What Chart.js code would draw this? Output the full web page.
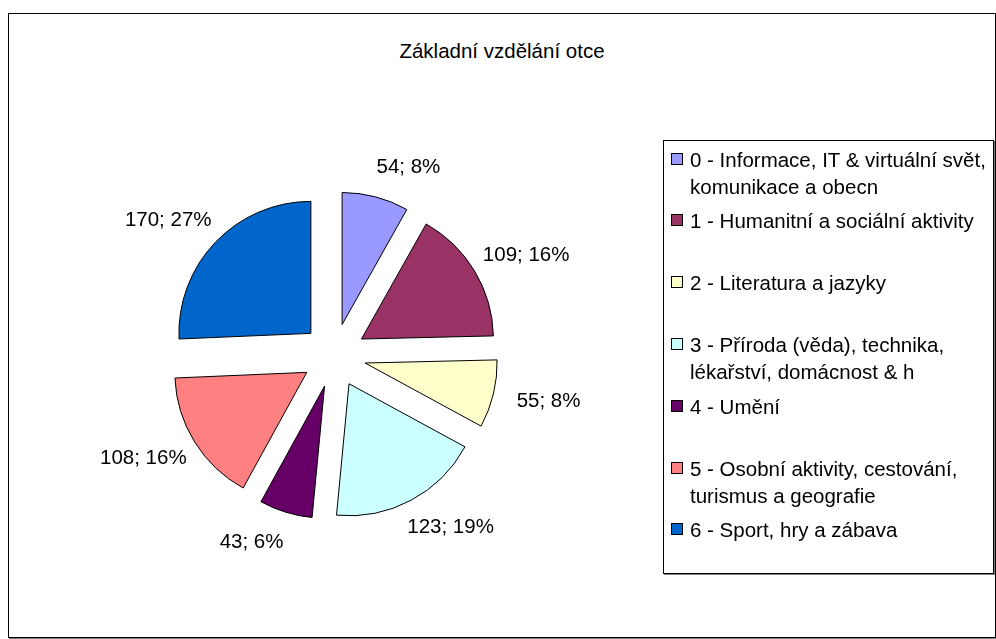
<!DOCTYPE html>
<html lang="cs">
<head>
<meta charset="utf-8">
<title>Základní vzdělání otce</title>
<script src="https://cdn.jsdelivr.net/npm/chart.js@4.4.1/dist/chart.umd.min.js"></script>
<style>
  html, body { margin: 0; padding: 0; background: #fff; }
  body {
    width: 996px; height: 639px; position: relative; overflow: hidden;
    font-family: "Liberation Sans", Arial, sans-serif; color: #000;
  }
  #frame {
    position: absolute; left: 8px; top: 13px; width: 988px; height: 625px;
    border: 1px solid #000; box-shadow: 1px 1px 0 #808080; box-sizing: border-box;
  }
  #chartTitle {
    position: absolute; left: 8px; width: 988px; top: 38px;
    text-align: center; font-size: 20.5px; line-height: 26px;
  }
  #pieChart { position: absolute; left: 0; top: 0; }
  #legendBox {
    position: absolute; left: 663px; top: 140px; width: 331px; height: 434px;
    border: 1px solid #000; box-shadow: 1px 1px 0 #808080; box-sizing: border-box;
  }
  .legend-item { position: absolute; left: 7px; font-size: 20.5px; line-height: 27px; white-space: nowrap; }
  .legend-swatch {
    position: absolute; left: 0; top: 7px; width: 12px; height: 12px;
    border: 1px solid #000; box-sizing: border-box;
  }
  .legend-text { margin-left: 19px; }
</style>
</head>
<body>
<div id="frame"></div>
<div id="chartTitle"></div>
<canvas id="pieChart" width="996" height="639"></canvas>
<div id="legendBox"></div>

<script>
// Data
const chartTitle = 'Základní vzdělání otce';
const categories = [
  ['0 - Informace, IT & virtuální svět,', 'komunikace a obecn'],
  ['1 - Humanitní a sociální aktivity'],
  ['2 - Literatura a jazyky'],
  ['3 - Příroda (věda), technika,', 'lékařství, domácnost & h'],
  ['4 - Umění'],
  ['5 - Osobní aktivity, cestování,', 'turismus a geografie'],
  ['6 - Sport, hry a zábava']
];
const counts = [54, 109, 55, 123, 43, 108, 170];
const percents = [8, 16, 8, 19, 6, 16, 27]; // tak jak jsou v popiscích
const sliceColors = ['#9999FF', '#993366', '#FFFFCC', '#CCFFFF', '#660066', '#FF8080', '#0066CC'];

const EXPLODE = 32;      // odsunutí výsečí od středu
const PIE_RADIUS = 132;
const LABEL_GAP = 31;
const LABEL_NUDGE = 25;  // vodorovný posun popisků ven
const FONT = '"Liberation Sans", Arial, sans-serif';

document.getElementById('chartTitle').textContent = chartTitle;

// Legenda jako HTML (víceřádkové položky)
const legendBox = document.getElementById('legendBox');
categories.forEach((lines, i) => {
  const item = document.createElement('div');
  item.className = 'legend-item';
  item.style.top = (4.5 + i * 61.8) + 'px';
  const swatch = document.createElement('span');
  swatch.className = 'legend-swatch';
  swatch.style.background = sliceColors[i];
  const text = document.createElement('div');
  text.className = 'legend-text';
  text.innerHTML = lines.map(l => l.replace(/&/g, '&amp;')).join('<br>');
  item.appendChild(swatch);
  item.appendChild(text);
  legendBox.appendChild(item);
});

// Plugin: rozložení výsečí (posun každé výseče ven po její ose)
const explodePlugin = {
  id: 'explodeSlices',
  afterDatasetsUpdate(chart) {
    const meta = chart.getDatasetMeta(0);
    meta.data.forEach(arc => {
      const mid = (arc.startAngle + arc.endAngle) / 2;
      arc.x += Math.cos(mid) * EXPLODE;
      arc.y += Math.sin(mid) * EXPLODE;
    });
  }
};

// Plugin: popisky "hodnota; procento" vně výsečí
const sliceLabelPlugin = {
  id: 'sliceLabels',
  afterDatasetsDraw(chart) {
    const ctx = chart.ctx;
    const meta = chart.getDatasetMeta(0);
    ctx.save();
    ctx.font = '20.5px ' + FONT;
    ctx.fillStyle = '#000';
    ctx.textAlign = 'center';
    ctx.textBaseline = 'middle';
    meta.data.forEach((arc, i) => {
      const mid = (arc.startAngle + arc.endAngle) / 2;
      const dx = Math.cos(mid), dy = Math.sin(mid);
      const r = arc.outerRadius + LABEL_GAP;
      const x = arc.x + r * dx + Math.sign(dx) * LABEL_NUDGE;
      const y = arc.y + r * dy;
      ctx.fillText(counts[i] + '; ' + percents[i] + '%', x, y);
    });
    ctx.restore();
  }
};

const ctx = document.getElementById('pieChart');
window.myPieChart = new Chart(ctx, {
  type: 'pie',
  data: {
    labels: categories.map(l => l.join(' ')),
    datasets: [{
      data: counts,
      backgroundColor: sliceColors,
      borderColor: '#000',
      borderWidth: 1,
      radius: PIE_RADIUS
    }]
  },
  options: {
    responsive: false,
    animation: false,
    events: [],
    layout: { padding: { left: 0, right: 328, top: 72, bottom: 0 } },
    plugins: {
      legend: { display: false },
      title: { display: false },
      tooltip: { enabled: false }
    }
  },
  plugins: [explodePlugin, sliceLabelPlugin]
});
</script>
</body>
</html>
